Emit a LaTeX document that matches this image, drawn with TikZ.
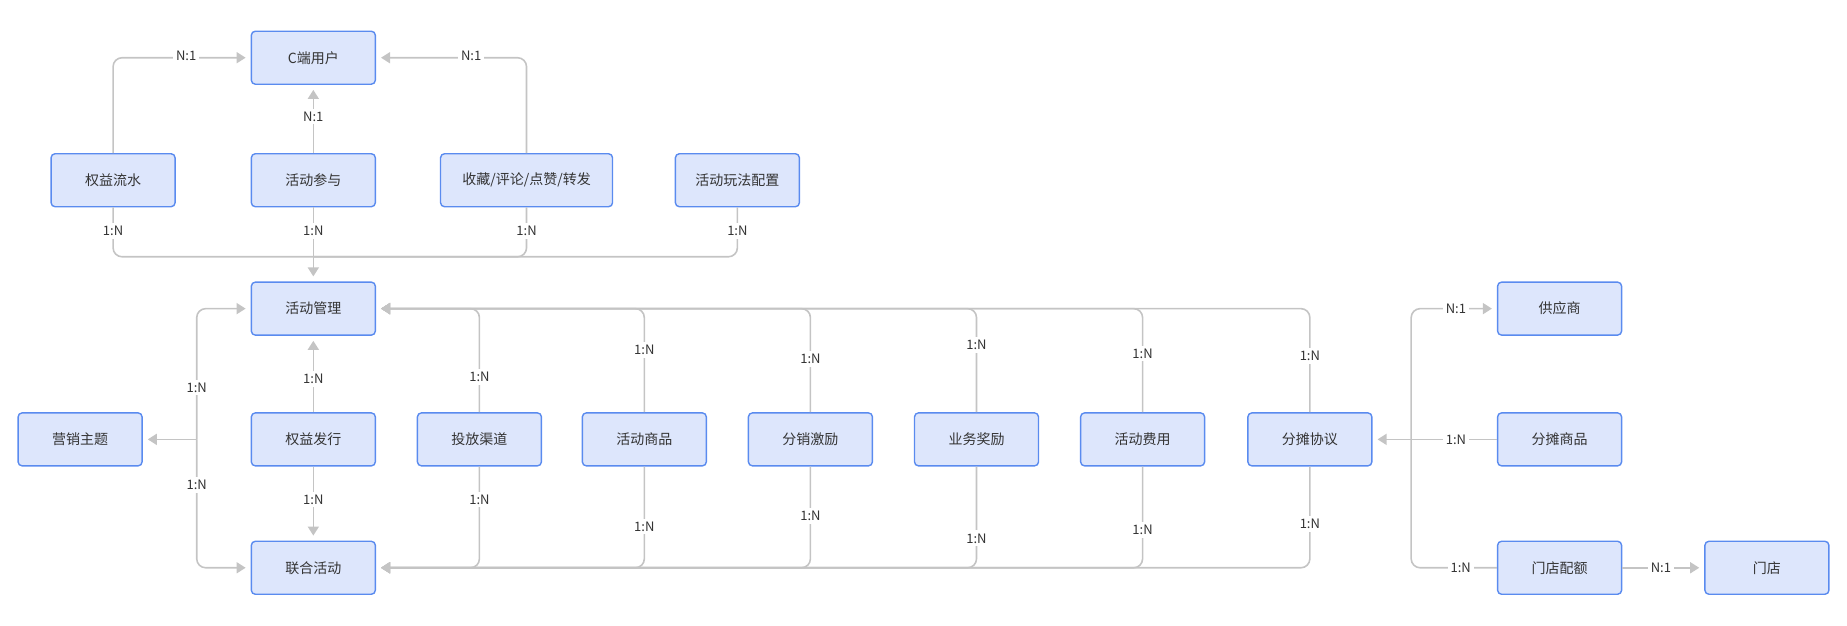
\documentclass[tikz,border=0pt]{standalone}
\usepackage{fontspec}
\setmainfont{Noto Sans CJK SC}
\usetikzlibrary{arrows.meta}
\definecolor{boxfill}{HTML}{DDE6FC}
\definecolor{boxline}{HTML}{5A8BEF}
\definecolor{conn}{HTML}{C4C4C4}
\definecolor{txt}{HTML}{333333}
\begin{document}
\begin{tikzpicture}[x=1.178pt,y=-1.178pt,
  box/.style={draw=boxline,line width=1.4pt,fill=boxfill,rounded corners=4pt,minimum width=124pt,minimum height=53pt,text=txt,font=\fontsize{14}{16}\selectfont,inner sep=2pt},
  wbox/.style={box,minimum width=172pt},
  line/.style={draw=conn,line width=1.6pt,rounded corners=9pt},
  arr/.style={line,-{Triangle[length=9pt,width=11pt]},shorten >=5pt},
  lbl/.style={fill=white,text=txt,font=\fontsize{13}{15}\selectfont,inner sep=3pt}]
\useasboundingbox (0,0) rectangle (1568,530.6);
% nodes
\node[box] (cuser) at (266,49) {C端用户};
\node[box] (qyls) at (96,153) {权益流水};
\node[box] (hdcy) at (266,153) {活动参与};
\node[wbox] (scpl) at (447,153) {收藏/评论/点赞/转发};
\node[box] (wfpz) at (626,153) {活动玩法配置};
\node[box] (hdgl) at (266,262) {活动管理};
\node[box] (yxzt) at (68,373) {营销主题};
\node[box] (qyfx) at (266,373) {权益发行};
\node[box] (tfqd) at (407,373) {投放渠道};
\node[box] (hdsp) at (547,373) {活动商品};
\node[box] (fxjl) at (688,373) {分销激励};
\node[box] (ywjl) at (829,373) {业务奖励};
\node[box] (hdfy) at (970,373) {活动费用};
\node[box] (ftxy) at (1112,373) {分摊协议};
\node[box] (lhhd) at (266,482) {联合活动};
\node[box] (gys) at (1324,262) {供应商};
\node[box] (ftsp) at (1324,373) {分摊商品};
\node[box] (mdpe) at (1324,482) {门店配额};
\node[box] (md) at (1500,482) {门店};
% junctions
\coordinate (bus) at (266,218);
\coordinate (jl) at (167,373);
\coordinate (jr) at (1198,373);
% top connectors
\draw[arr] (qyls.north) |- (cuser.west);
\draw[arr] (scpl.north) |- (cuser.east);
\draw[arr] (hdcy.north) -- (cuser.south);
\draw[line] (qyls.south) |- (bus);
\draw[line] (scpl.south) |- (bus);
\draw[line] (wfpz.south) |- (bus);
\draw[arr] (hdcy.south) -- (hdgl.north);
% left
\draw[arr] (jl) |- (hdgl.west);
\draw[arr] (jl) |- (lhhd.west);
\draw[arr,rounded corners=0pt] (jl) -- (yxzt.east);
\draw[arr] (qyfx.north) -- (hdgl.south);
\draw[arr] (qyfx.south) -- (lhhd.north);
% middle
\foreach \n in {tfqd,hdsp,fxjl,ywjl,hdfy,ftxy}{
  \draw[arr] (\n.north) |- (hdgl.east);
  \draw[arr] (\n.south) |- (lhhd.east);
}
% right
\draw[arr] (jr) |- (gys.west);
\draw[line] (ftsp.west) -- (jr);
\draw[line] (mdpe.west) -| (jr);
\draw[arr,rounded corners=0pt] (jr) -- (ftxy.east);
\draw[arr] (mdpe.east) -- (md.west);
% labels
\node[lbl] at (158,47) {N:1};
\node[lbl] at (400,47) {N:1};
\node[lbl] at (266,99) {N:1};
\node[lbl] at (96,196) {1:N};
\node[lbl] at (266,196) {1:N};
\node[lbl] at (447,196) {1:N};
\node[lbl] at (626,196) {1:N};
\node[lbl] at (167,329) {1:N};
\node[lbl] at (167,412) {1:N};
\node[lbl] at (266,322) {1:N};
\node[lbl] at (266,424) {1:N};
\node[lbl] at (407,320) {1:N};
\node[lbl] at (547,297) {1:N};
\node[lbl] at (688,305) {1:N};
\node[lbl] at (829,293) {1:N};
\node[lbl] at (970,300) {1:N};
\node[lbl] at (1112,302) {1:N};
\node[lbl] at (407,424) {1:N};
\node[lbl] at (547,447) {1:N};
\node[lbl] at (688,438) {1:N};
\node[lbl] at (829,457) {1:N};
\node[lbl] at (970,450) {1:N};
\node[lbl] at (1112,445) {1:N};
\node[lbl] at (1236,262) {N:1};
\node[lbl] at (1236,373) {1:N};
\node[lbl] at (1240,482) {1:N};
\node[lbl] at (1410,482) {N:1};
\end{tikzpicture}
\end{document}
